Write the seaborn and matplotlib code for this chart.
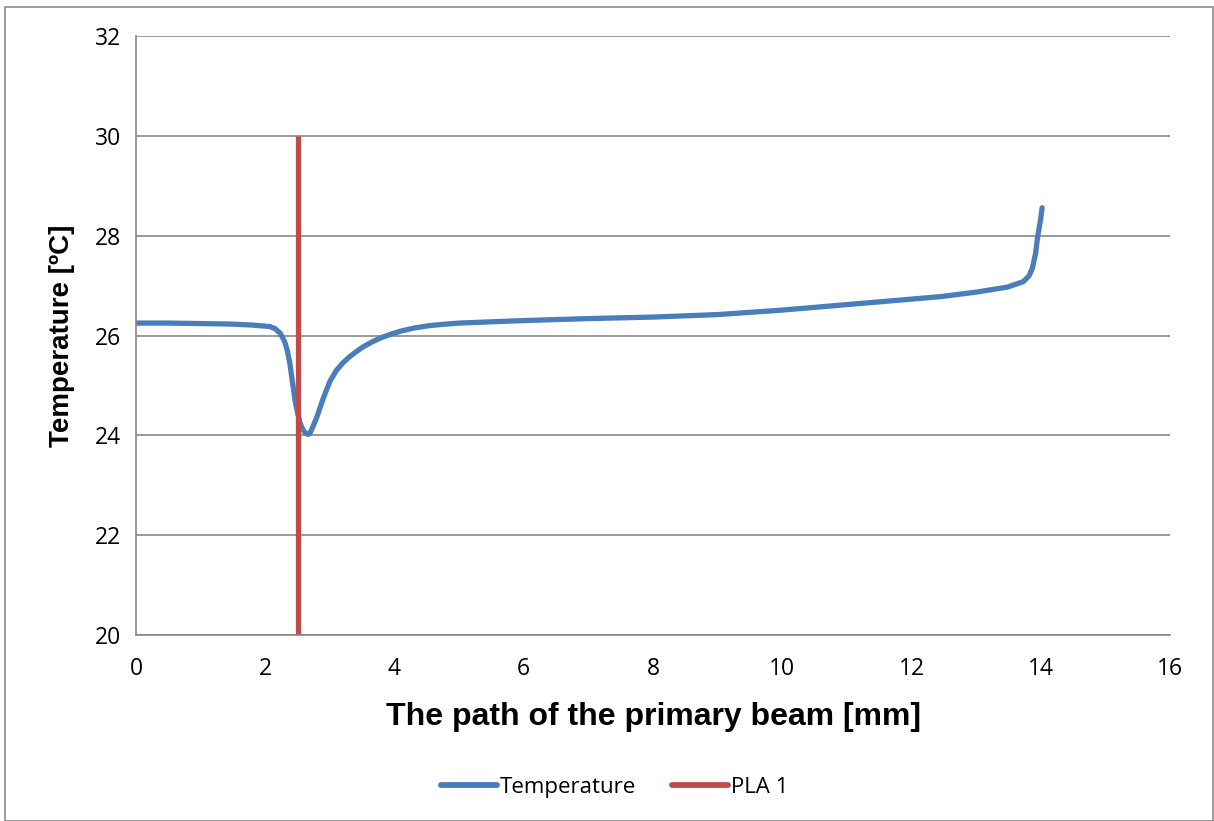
import matplotlib
matplotlib.use("Agg")
import matplotlib.pyplot as plt
import seaborn as sns
import pandas as pd
from matplotlib.patches import Rectangle

# Data
path_mm = [0.0, 0.5, 1.0, 1.46, 1.8, 2.07, 2.15, 2.23, 2.3, 2.34, 2.38, 2.41, 2.46, 2.5, 2.54,
           2.58, 2.62, 2.66, 2.69, 2.74, 2.8, 2.9, 3.0, 3.1, 3.2, 3.3, 3.4, 3.51, 3.65, 3.8,
           3.95, 4.1, 4.3, 4.55, 4.8, 5.0, 6.0, 7.0, 8.0, 9.0, 10.0, 11.0, 12.0, 12.45, 13.0,
           13.48, 13.73, 13.82, 13.87, 13.92, 13.95, 14.0, 14.02]
temperature = [26.25, 26.25, 26.24, 26.23, 26.21, 26.18, 26.14, 26.05, 25.88, 25.71, 25.45, 25.17,
               24.71, 24.45, 24.25, 24.12, 24.05, 24.02, 24.04, 24.18, 24.37, 24.75, 25.08, 25.3,
               25.45, 25.57, 25.67, 25.77, 25.87, 25.96, 26.03, 26.09, 26.15, 26.2, 26.23, 26.25,
               26.3, 26.34, 26.37, 26.42, 26.51, 26.62, 26.73, 26.78, 26.87, 26.97, 27.08, 27.2,
               27.35, 27.65, 27.97, 28.35, 28.56]
pla_x = [2.5, 2.5]
pla_y = [20, 30]

x_ticks = list(range(0, 17, 2))
y_ticks = list(range(20, 33, 2))

df_temp = pd.DataFrame({"x": path_mm, "y": temperature})
df_pla = pd.DataFrame({"x": pla_x, "y": pla_y})

sns.set_theme(style="white")
plt.rcParams["font.family"] = ["Open Sans", "DejaVu Sans"]
plt.rcParams["text.color"] = "black"
plt.rcParams["axes.labelcolor"] = "black"

fig = plt.figure(figsize=(12.14, 8.21), dpi=100)
ax = fig.add_axes([0.112, 0.2266, 0.8518, 0.7294])

blue = "#4A7EBB"
red = "#BE4B48"
grid_c = "#878787"

sns.lineplot(data=df_temp, x="x", y="y", ax=ax, color=blue, linewidth=3.8, sort=False,
             estimator=None, label="Temperature", solid_capstyle="round", solid_joinstyle="round")
sns.lineplot(data=df_pla, x="x", y="y", ax=ax, color=red, linewidth=3.8, sort=False,
             estimator=None, label="PLA 1", solid_capstyle="butt")

ax.set_xlim(0, 16)
ax.set_ylim(20, 32)
ax.set_xticks(x_ticks)
ax.set_yticks(y_ticks)
ax.yaxis.grid(True, color=grid_c, linewidth=1.2)
ax.xaxis.grid(False)
ax.set_axisbelow(True)
for s in ["top", "right"]:
    ax.spines[s].set_visible(False)
for s in ["left", "bottom"]:
    ax.spines[s].set_color(grid_c)
    ax.spines[s].set_linewidth(1.2)
ax.tick_params(axis="both", which="major", direction="out", length=7, width=1.2,
               color=grid_c, labelsize=16.5, labelcolor="black")
ax.tick_params(axis="x", pad=9)
ax.tick_params(axis="y", pad=4)
ax.set_xlabel("The path of the primary beam [mm]", fontsize=23, fontweight="bold",
              family=["Liberation Sans", "DejaVu Sans"], labelpad=15, color="black")
ax.set_ylabel("Temperature [ºC]", fontsize=20, fontweight="bold",
              family=["Liberation Sans", "DejaVu Sans"], labelpad=14, color="black")

leg = ax.legend(loc="center", bbox_to_anchor=(0.463, -0.254), ncol=2, frameon=False,
                fontsize=16, handlelength=2.5, columnspacing=1.6, handletextpad=0.15)
for line in leg.get_lines():
    line.set_solid_capstyle("round")
    line.set_linewidth(4.2)

fig.patches.append(Rectangle((5 / 1214, 0), 1 - 5 / 1214 - 0.001, 1 - 7 / 821,
                             transform=fig.transFigure, fill=False,
                             edgecolor="#8C8C8C", linewidth=1.2))

fig.savefig("out.png", dpi=100)
